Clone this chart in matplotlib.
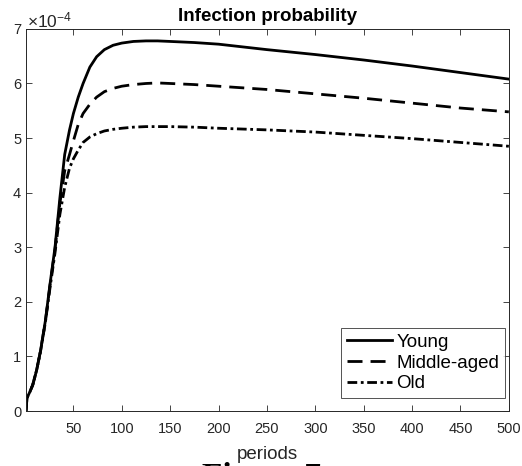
import matplotlib
matplotlib.use("Agg")
import matplotlib.pyplot as plt
import numpy as np

# values (x1e-4)
periods = [1, 2, 5, 8, 12, 16, 21, 26, 31, 36, 41, 46, 50, 55, 60, 67, 74,
           82, 91, 100, 112, 125, 137, 150, 175, 200, 250, 300, 350, 400, 450, 500]
young = [0.0, 0.24, 0.35, 0.48, 0.75, 1.10, 1.65, 2.35, 3.00, 3.90, 4.70, 5.15,
         5.45, 5.75, 6.00, 6.30, 6.49, 6.62, 6.70, 6.74, 6.77, 6.78, 6.78, 6.77,
         6.75, 6.72, 6.62, 6.53, 6.43, 6.32, 6.20, 6.08]
middle = [0.0, 0.24, 0.35, 0.48, 0.75, 1.10, 1.64, 2.33, 2.97, 3.80, 4.40, 4.70,
          4.95, 5.25, 5.45, 5.62, 5.75, 5.85, 5.91, 5.95, 5.98, 6.00, 6.01, 6.00,
          5.98, 5.95, 5.89, 5.81, 5.73, 5.64, 5.55, 5.48]
old = [0.0, 0.24, 0.35, 0.48, 0.75, 1.09, 1.62, 2.28, 2.90, 3.60, 4.10, 4.45,
       4.62, 4.78, 4.92, 5.02, 5.08, 5.13, 5.16, 5.18, 5.20, 5.21, 5.21, 5.21,
       5.20, 5.18, 5.15, 5.11, 5.05, 4.99, 4.92, 4.85]
labels = ["Young", "Middle-aged", "Old"]

grey = "#262626"
plt.rcParams["font.family"] = ["Liberation Sans", "DejaVu Sans"]
plt.rcParams["mathtext.fontset"] = "custom"
plt.rcParams["mathtext.rm"] = "Liberation Sans"

fig = plt.figure(figsize=(5.22, 4.66), dpi=100)
ax = fig.add_axes([0.0498, 0.118, 0.925, 0.820])

scale = 1e-4
ax.plot(periods, np.array(young) * scale, color="black", lw=2, label=labels[0])
ax.plot(periods, np.array(middle) * scale, color="black", lw=2,
        dashes=(5.4, 2.9), dash_capstyle="butt", label=labels[1])
ax.plot(periods, np.array(old) * scale, color="black", lw=2,
        dashes=(3.5, 1.3, 1.0, 1.3), dash_capstyle="butt", label=labels[2])

ax.set_xlim(1, 500)
ax.set_ylim(0, 7e-4)
ax.set_xticks(range(50, 501, 50))
ax.set_yticks([i * scale for i in range(8)])
ax.set_yticklabels([str(i) for i in range(8)])
ax.tick_params(direction="in", length=4.5, width=0.6, colors=grey,
               labelsize=10.5, top=True, right=True, labelcolor=grey)
ax.tick_params(axis="x", pad=8)
for s in ax.spines.values():
    s.set_color(grey)
    s.set_linewidth(0.7)

ax.set_title("Infection probability", fontsize=13.5, fontweight="bold", pad=6)
ax.set_xlabel("periods", fontsize=13.5, color=grey, labelpad=7)
ax.text(0.002, 0.996, r"$\mathregular{\times10^{-4}}$", transform=ax.transAxes,
        fontsize=12.5, color=grey, ha="left", va="bottom")

leg = ax.legend(loc="lower right", bbox_to_anchor=(0.9917, 0.034),
                fontsize=13.5, frameon=True, fancybox=False,
                borderaxespad=0, handlelength=2.4, handletextpad=0.25,
                labelspacing=0.2, borderpad=0.3)
leg.get_frame().set_edgecolor(grey)
leg.get_frame().set_linewidth(0.7)

fig.text(0.5, 0.008, "Figure 7", ha="center", va="top", fontsize=24,
         fontweight="bold", family="Liberation Serif")

fig.savefig("out.png", dpi=100)
